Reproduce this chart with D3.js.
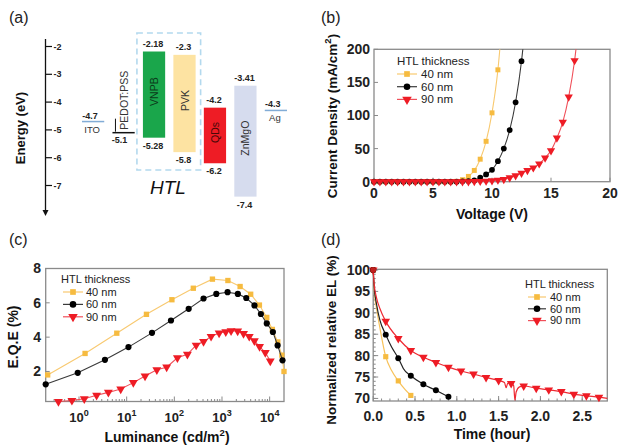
<!DOCTYPE html>
<html><head><meta charset="utf-8">
<script src="https://cdn.jsdelivr.net/npm/d3@7"></script>
<style>
body{margin:0;background:#fff;}
svg{display:block;font-family:Arial,"Liberation Sans",sans-serif;}
</style></head><body>
<svg id="chart" width="642" height="446"></svg>
<script>
// ---------- Panel (a): energy levels ----------
const layerNames   = ["ITO", "PEDOT:PSS", "VNPB", "PVK", "QDs", "ZnMgO", "Ag"];
const energyTop    = [-4.7, -5.1, -2.18, -2.3, -4.2, -3.41, -4.3];
const energyBottom = [null, null, -5.28, -5.8, -6.2, -7.4, null];
const energyTicks  = [-2, -3, -4, -5, -6, -7];

// ---------- Panel (b): J-V ----------
const seriesNames = ["40 nm", "60 nm", "90 nm"];
const bVolt40 = [0,0.5,1,1.5,2,2.5,3,3.5,4,4.5,5,5.5,6,6.5,7,7.5,8,8.5,9,9.5,10,10.5,11];
const bCurr40 = [0,0,0,0,0,0,0,0,0,0,0,0,0,0,0.5,3,8,17,34,61,104,169,275];
const bVolt60 = [0,0.5,1,1.5,2,2.5,3,3.5,4,4.5,5,5.5,6,6.5,7,7.5,8,8.5,9,9.5,10,10.5,11,11.5,12,12.5,13];
const bCurr60 = [0,0,0,0,0,0,0,0,0,0,0,0,0,0,0,0.5,1,2,6,11,18,31,50,78,120,182,270];
const bVolt90 = [0,0.5,1,1.5,2,2.5,3,3.5,4,4.5,5,5.5,6,6.5,7,7.5,8,8.5,9,9.5,10,10.5,11,11.5,12,12.5,13,13.5,14,14.5,15,15.5,16,16.5,17,17.5];
const bCurr90 = [0,0,0,0,0,0,0,0,0,0,0,0,0,0,0,0,0,0.3,0.6,1,1.5,2.5,3.5,6,9,13,17,21,27,36,47,66,90,128,183,265];
const bXTicks = [0, 5, 10, 15, 20];
const bYTicks = [0, 50, 100, 150, 200];

// ---------- Panel (c): EQE vs luminance ----------
const cLum40 = [0.22,1.34,6.2,26,89,250,630,1330,2400,4000,6100,8700,11400,14800,18000,20000];
const cEqe40 = [1.8,3.05,4.23,5.33,6.18,6.85,7.38,7.3,6.95,6.5,5.87,5.15,4.45,3.72,2.95,2.0];
const cLum60 = [0.2,0.94,3.5,10.9,34,85,200,410,760,1310,2150,3230,4800,6550,8700,11700,14700,18600];
const cEqe60 = [1.25,1.92,2.68,3.42,4.25,4.97,5.65,6.25,6.52,6.62,6.52,6.28,5.85,5.35,4.8,4.3,3.52,2.65];
const cLum90 = [0.37,0.71,1.29,2.34,4.13,7.5,13.8,24.3,43,69,116,188,287,410,590,870,1200,1550,2130,2830,3730,4780,6140,8100,10300];
const cEqe90 = [0.25,0.31,0.41,0.61,0.78,0.98,1.35,1.73,2.1,2.25,2.8,3.0,3.53,3.74,4.04,4.24,4.31,4.37,4.35,4.21,4.04,3.78,3.45,3.1,2.61];
const cXTicks = [1, 10, 100, 1000, 10000];
const cYTicks = [2, 4, 6, 8];

// ---------- Panel (d): lifetime ----------
const dTime40 = [0,0.01,0.04,0.08,0.15,0.22,0.3,0.38,0.45];
const dEl40   = [100,96,91,86.5,79.75,76.5,74.1,72.1,70.7];
const dTime60 = [0,0.01,0.04,0.08,0.15,0.22,0.3,0.33,0.36,0.45,0.6,0.75,0.9];
const dEl60   = [100,96.5,92,88.3,84.9,82,79.4,78.2,77.0,75.3,73.3,71.9,70.4];
const dTime90 = [0,0.01,0.04,0.08,0.15,0.3,0.45,0.6,0.75,0.9,1.05,1.2,1.35,1.5,1.57,1.59,1.61,1.65,1.68,1.695,1.71,1.75,1.8,1.95,2.1,2.25,2.4,2.55,2.7,2.8];
const dEl90   = [100,97,93.5,91,88.0,84.0,81.2,79.6,78.4,77.3,76.4,75.7,74.9,74.2,73.7,72.5,73.6,73.5,73.0,69.6,71.5,72.7,72.9,72.4,72.0,71.6,71.0,70.6,70.3,70.0];
const dXTicks = [0, 0.5, 1.0, 1.5, 2.0, 2.5];
const dYTicks = [70, 75, 80, 85, 90, 95, 100];

// ---------- styles ----------
const MARK = {"40 nm": "#f6bb40", "60 nm": "#000000", "90 nm": "#ee1c25"};
const LINE = {"40 nm": "#f8c970", "60 nm": "#3a3a3a", "90 nm": "#f0505a"};
const SYM  = {"40 nm": d3.symbolSquare, "60 nm": d3.symbolCircle, "90 nm": d3.symbolTriangle};
const FRAME = "#8a8a8a";

const svg = d3.select("#chart");

function marker(g, name, x, y, size) {
  const rot = name === "90 nm" ? 180 : 0;
  const s = name === "90 nm" ? size * 1.15 : (name === "40 nm" ? size * 0.95 : size);
  g.append("path")
    .attr("d", d3.symbol().type(SYM[name]).size(s)())
    .attr("transform", `translate(${x},${y}) rotate(${rot})`)
    .attr("fill", MARK[name]);
}

function legend(g, x, y, dy, lineX0, lineX1, textX, fs) {
  g.append("text").attr("x", x).attr("y", y).attr("font-size", fs).attr("fill", "#222").text("HTL thickness");
  seriesNames.forEach((n, i) => {
    const cy = y + 9 + i * dy;
    g.append("line").attr("x1", lineX0).attr("x2", lineX1).attr("y1", cy).attr("y2", cy)
      .attr("stroke", LINE[n]).attr("stroke-width", 1.2);
    marker(g, n, (lineX0 + lineX1) / 2, cy, 34);
    g.append("text").attr("x", textX).attr("y", cy).attr("dy", "0.35em").attr("font-size", fs)
      .attr("fill", "#222").text(n);
  });
}

function frame(g, x0, y0, x1, y1) {
  g.append("rect").attr("x", x0).attr("y", y0).attr("width", x1 - x0).attr("height", y1 - y0)
    .attr("fill", "none").attr("stroke", FRAME).attr("stroke-width", 1.3);
}

function panelLabel(txt, x, y) {
  svg.append("text").attr("x", x).attr("y", y).attr("font-size", 16).attr("fill", "#222").text(txt);
}

// ================= Panel (a) =================
{
  const g = svg.append("g");
  panelLabel("(a)", 9, 23);
  const ya = d3.scaleLinear().domain([-2, -7]).range([46.5, 185.5]);
  const xa = d3.scaleBand().domain(layerNames).range([82, 287]).paddingInner(0.27);
  const bw = xa.bandwidth();

  g.append("line").attr("x1", 45.5).attr("x2", 45.5).attr("y1", 39).attr("y2", 212)
    .attr("stroke", "#111").attr("stroke-width", 1.3);
  g.append("path").attr("d", "M42.5,210 L48.5,210 L45.5,216 Z").attr("fill", "#111");
  energyTicks.forEach(t => {
    g.append("line").attr("x1", 45.5).attr("x2", 52).attr("y1", ya(t)).attr("y2", ya(t))
      .attr("stroke", "#111").attr("stroke-width", 1.2);
    g.append("text").attr("x", 53.5).attr("y", ya(t)).attr("dy", "0.35em")
      .attr("font-size", 9).attr("font-weight", "bold").attr("fill", "#222").text(t);
  });
  g.append("text").attr("transform", "translate(25,128) rotate(-90)").attr("text-anchor", "middle")
    .attr("font-size", 13).attr("font-weight", "bold").attr("fill", "#111").text("Energy (eV)");

  g.append("rect").attr("x", xa("VNPB") - 6).attr("y", 33).attr("width", xa("PVK") + bw + 5 - (xa("VNPB") - 6))
    .attr("height", 137).attr("fill", "none").attr("stroke", "#b3d9ee").attr("stroke-width", 1.6)
    .attr("stroke-dasharray", "6,4");
  g.append("text").attr("x", 168).attr("y", 194).attr("text-anchor", "middle").attr("font-size", 19)
    .attr("font-style", "italic").attr("fill", "#111").text("HTL");

  const fills = {"VNPB": "#1aa64b", "PVK": "#fde3a2", "QDs": "#ee1c25", "ZnMgO": "#d6dcee"};
  const lineCol = {"ITO": "#82acd6", "PEDOT:PSS": "#111", "Ag": "#82acd6"};
  const nameCol = {"VNPB": "#0b3a1a", "PVK": "#333", "QDs": "#4a0808", "ZnMgO": "#333"};

  layerNames.forEach((n, i) => {
    const x = xa(n), cx = x + bw / 2;
    const yt = ya(energyTop[i]);
    if (energyBottom[i] === null) {
      g.append("line").attr("x1", x).attr("x2", x + bw).attr("y1", yt).attr("y2", yt)
        .attr("stroke", lineCol[n]).attr("stroke-width", 1.5);
      if (n === "PEDOT:PSS") {
        g.append("text").attr("x", cx - 4).attr("y", yt + 10).attr("text-anchor", "middle")
          .attr("font-size", 9).attr("font-weight", "bold").attr("fill", "#222").text(energyTop[i]);
        g.append("line").attr("x1", x + 3).attr("x2", x + 3).attr("y1", yt - 14).attr("y2", yt - 1)
          .attr("stroke", "#111").attr("stroke-width", 1);
        g.append("text").attr("transform", `translate(${cx + 4},${yt - 3}) rotate(-90)`)
          .attr("font-size", 10.5).attr("fill", "#333").text(n);
      } else {
        g.append("text").attr("x", cx - 3).attr("y", yt - 3).attr("text-anchor", "middle")
          .attr("font-size", 9).attr("font-weight", "bold").attr("fill", "#222").text(energyTop[i]);
        g.append("text").attr("x", cx - 1).attr("y", yt + 11).attr("text-anchor", "middle")
          .attr("font-size", 9.5).attr("fill", "#333").text(n);
      }
    } else {
      const yb = ya(energyBottom[i]);
      g.append("rect").attr("x", x).attr("y", yt).attr("width", bw).attr("height", yb - yt)
        .attr("fill", fills[n]);
      g.append("text").attr("x", cx - 1).attr("y", yt - 4.5).attr("text-anchor", "middle")
        .attr("font-size", 9).attr("font-weight", "bold").attr("fill", "#222").text(energyTop[i]);
      g.append("text").attr("x", cx - 1).attr("y", yb + 11).attr("text-anchor", "middle")
        .attr("font-size", 9).attr("font-weight", "bold").attr("fill", "#222").text(energyBottom[i]);
      g.append("text").attr("transform", `translate(${cx + 4},${(yt + yb) / 2 - 3}) rotate(-90)`)
        .attr("text-anchor", "middle").attr("font-size", 10.5).attr("fill", nameCol[n]).text(n);
    }
  });
}

// ================= Panel (b) =================
{
  const g = svg.append("g");
  panelLabel("(b)", 321, 23);
  const X0 = 374, X1 = 610, Y0 = 49.3, Y1 = 181.7;
  const xb = d3.scaleLinear().domain([0, 20]).range([X0, X1]);
  const yb = d3.scaleLinear().domain([0, 200]).range([Y1, Y0]);
  svg.append("clipPath").attr("id", "clipB").append("rect")
    .attr("x", X0).attr("y", Y0).attr("width", X1 - X0).attr("height", Y1 - Y0);

  bXTicks.forEach(t => {
    g.append("line").attr("x1", xb(t)).attr("x2", xb(t)).attr("y1", Y1).attr("y2", Y1 - 4).attr("stroke", FRAME);
    g.append("text").attr("x", xb(t)).attr("y", 198).attr("text-anchor", "middle")
      .attr("font-size", 14).attr("font-weight", "bold").attr("fill", "#222").text(t);
  });
  bYTicks.forEach(t => {
    g.append("line").attr("x1", X0).attr("x2", X0 + 4).attr("y1", yb(t)).attr("y2", yb(t)).attr("stroke", FRAME);
    g.append("text").attr("x", 370).attr("y", yb(t)).attr("dy", "0.35em").attr("text-anchor", "end")
      .attr("font-size", 14).attr("font-weight", "bold").attr("fill", "#222").text(t);
  });
  frame(g, X0, Y0, X1, Y1);

  const data = {
    "40 nm": bVolt40.map((v, i) => [v, bCurr40[i]]),
    "60 nm": bVolt60.map((v, i) => [v, bCurr60[i]]),
    "90 nm": bVolt90.map((v, i) => [v, bCurr90[i]])
  };
  const line = d3.line().x(d => xb(d[0])).y(d => yb(d[1])).curve(d3.curveMonotoneX);
  const pg = g.append("g").attr("clip-path", "url(#clipB)");
  seriesNames.forEach(n => {
    pg.append("path").attr("d", line(data[n])).attr("fill", "none")
      .attr("stroke", LINE[n]).attr("stroke-width", 1.1);
  });
  seriesNames.forEach(n => {
    data[n].filter(d => d[1] <= 200).forEach(d => marker(g, n, xb(d[0]), yb(d[1]), 26));
  });

  legend(g, 397, 65, 12.7, 397, 417, 421, 11.5);

  g.append("text").attr("x", 492).attr("y", 219).attr("text-anchor", "middle")
    .attr("font-size", 14).attr("font-weight", "bold").attr("fill", "#111").text("Voltage (V)");
  const t = g.append("text").attr("transform", "translate(337,116) rotate(-90)").attr("text-anchor", "middle")
    .attr("font-size", 13.5).attr("font-weight", "bold").attr("fill", "#111");
  t.append("tspan").text("Current Density (mA/cm");
  t.append("tspan").attr("dy", -6).attr("font-size", 9.5).text("2");
  t.append("tspan").attr("dy", 6).text(")");
}

// ================= Panel (c) =================
{
  const g = svg.append("g");
  panelLabel("(c)", 9, 245);
  const X0 = 45.7, X1 = 284, Y0 = 268.5, Y1 = 401.5;
  const xc = d3.scaleLog().domain([0.2, 20000]).range([X0, X1]);
  const yc = d3.scaleLinear().domain([0.25, 8]).range([Y1, Y0]);

  [0.1, 1, 10, 100, 1000, 10000].forEach(dec => {
    for (let k = 2; k <= 9; k++) {
      const v = dec * k;
      if (v > 0.2 && v < 20000) {
        g.append("line").attr("x1", xc(v)).attr("x2", xc(v)).attr("y1", Y1).attr("y2", Y1 - 2.5)
          .attr("stroke", FRAME);
      }
    }
  });
  cXTicks.forEach((t, i) => {
    g.append("line").attr("x1", xc(t)).attr("x2", xc(t)).attr("y1", Y1).attr("y2", Y1 - 5).attr("stroke", FRAME);
    const tx = g.append("text").attr("x", xc(t)).attr("y", 422).attr("text-anchor", "middle")
      .attr("font-size", 13).attr("font-weight", "bold").attr("fill", "#222");
    tx.append("tspan").text("10");
    tx.append("tspan").attr("dy", -6).attr("font-size", 9).text(String(i));
  });
  cYTicks.forEach(t => {
    g.append("line").attr("x1", X0).attr("x2", X0 + 4).attr("y1", yc(t)).attr("y2", yc(t)).attr("stroke", FRAME);
    g.append("text").attr("x", 41).attr("y", yc(t)).attr("dy", "0.35em").attr("text-anchor", "end")
      .attr("font-size", 14).attr("font-weight", "bold").attr("fill", "#222").text(t);
  });
  frame(g, X0, Y0, X1, Y1);

  const data = {
    "40 nm": cLum40.map((v, i) => [v, cEqe40[i]]),
    "60 nm": cLum60.map((v, i) => [v, cEqe60[i]]),
    "90 nm": cLum90.map((v, i) => [v, cEqe90[i]])
  };
  const line = d3.line().x(d => xc(d[0])).y(d => yc(d[1]));
  seriesNames.forEach(n => {
    g.append("path").attr("d", line(data[n])).attr("fill", "none")
      .attr("stroke", LINE[n]).attr("stroke-width", 1.1);
    data[n].forEach(d => marker(g, n, xc(d[0]), yc(d[1]), 30));
  });

  legend(g, 61, 283, 12.4, 63, 83, 86, 11);

  const tt = g.append("text").attr("x", 167).attr("y", 442).attr("text-anchor", "middle")
    .attr("font-size", 14).attr("font-weight", "bold").attr("fill", "#111");
  tt.append("tspan").text("Luminance (cd/m");
  tt.append("tspan").attr("dy", -6).attr("font-size", 9.5).text("2");
  tt.append("tspan").attr("dy", 6).text(")");
  g.append("text").attr("transform", "translate(18,337) rotate(-90)").attr("text-anchor", "middle")
    .attr("font-size", 14).attr("font-weight", "bold").attr("fill", "#111").text("E.Q.E (%)");
}

// ================= Panel (d) =================
{
  const g = svg.append("g");
  panelLabel("(d)", 321, 245);
  const X0 = 373.2, X1 = 607.3, Y0 = 269.3, Y1 = 401;
  const xd = d3.scaleLinear().domain([0, 2.8]).range([X0, X1]);
  const yd = d3.scaleLinear().domain([69.4, 100.16]).range([Y1, Y0]);

  for (let k = 1; k < 28; k++) {
    const v = k / 10;
    g.append("line").attr("x1", xd(v)).attr("x2", xd(v)).attr("y1", Y1).attr("y2", Y1 - 2.5).attr("stroke", FRAME);
  }
  for (let k = 70; k <= 100; k++) {
    g.append("line").attr("x1", X0).attr("x2", X0 + 2.5).attr("y1", yd(k)).attr("y2", yd(k)).attr("stroke", FRAME);
  }
  dXTicks.forEach(t => {
    g.append("line").attr("x1", xd(t)).attr("x2", xd(t)).attr("y1", Y1).attr("y2", Y1 - 5).attr("stroke", FRAME);
    g.append("text").attr("x", xd(t)).attr("y", 421).attr("text-anchor", "middle")
      .attr("font-size", 14).attr("font-weight", "bold").attr("fill", "#222").text(t.toFixed(1));
  });
  dYTicks.forEach(t => {
    g.append("line").attr("x1", X0).attr("x2", X0 + 5).attr("y1", yd(t)).attr("y2", yd(t)).attr("stroke", FRAME);
    g.append("text").attr("x", 370).attr("y", yd(t)).attr("dy", "0.35em").attr("text-anchor", "end")
      .attr("font-size", 14).attr("font-weight", "bold").attr("fill", "#222").text(t);
  });
  frame(g, X0, Y0, X1, Y1);

  const data = {
    "40 nm": dTime40.map((v, i) => [v, dEl40[i]]),
    "60 nm": dTime60.map((v, i) => [v, dEl60[i]]),
    "90 nm": dTime90.map((v, i) => [v, dEl90[i]])
  };
  const lineCol = {"40 nm": "#f8c25a", "60 nm": "#222", "90 nm": "#ee2a33"};
  const line = d3.line().x(d => xd(d[0])).y(d => yd(d[1])).curve(d3.curveMonotoneX);
  const onStep = t => Math.abs(t / 0.15 - Math.round(t / 0.15)) < 1e-6;
  seriesNames.forEach(n => {
    g.append("path").attr("d", line(data[n])).attr("fill", "none")
      .attr("stroke", lineCol[n]).attr("stroke-width", 1.2);
  });
  seriesNames.forEach(n => {
    data[n].filter(d => onStep(d[0])).forEach(d => marker(g, n, xd(d[0]), yd(d[1]), 28));
  });
  marker(g, "60 nm", xd(0), yd(100), 28);
  g.append("circle").attr("cx", xd(0)).attr("cy", yd(100)).attr("r", 3).attr("fill", "#c0201c");

  legend(g, 525, 288, 11.8, 528, 546, 550, 11);

  g.append("text").attr("x", 492).attr("y", 439).attr("text-anchor", "middle")
    .attr("font-size", 14).attr("font-weight", "bold").attr("fill", "#111").text("Time (hour)");
  g.append("text").attr("transform", "translate(336,340) rotate(-90)").attr("text-anchor", "middle")
    .attr("font-size", 13.5).attr("font-weight", "bold").attr("fill", "#111").text("Normalized relative EL (%)");
}
</script></body></html>
